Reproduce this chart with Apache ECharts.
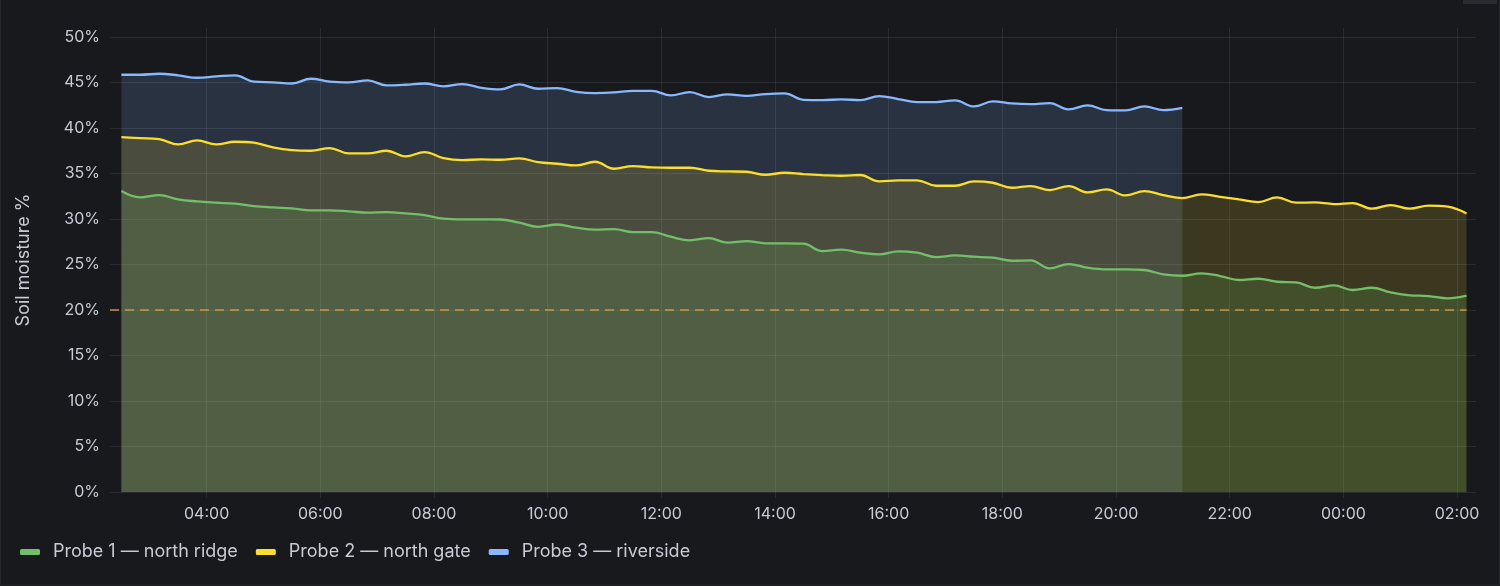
<!DOCTYPE html>
<html>
<head>
<meta charset="utf-8">
<script src="https://cdn.jsdelivr.net/npm/echarts@6/dist/echarts.min.js"></script>
<style>
html,body{margin:0;padding:0;background:#17191d;}
#chart{width:1500px;height:586px;}
</style>
</head>
<body>
<div id="chart"></div>
<script>
// ---- data (20-minute readings starting 02:30) ----
const seriesNames = ['Probe 1 — north ridge', 'Probe 2 — north gate', 'Probe 3 — riverside'];
const seriesColors = ['#73BF69', '#FADE2A', '#8AB8FF'];
const startTime = new Date(2024, 0, 1, 2, 30).getTime();
const stepMinutes = 20;
const axisStart = new Date(2024, 0, 1, 2, 18).getTime();
const axisEnd = new Date(2024, 0, 2, 2, 20).getTime();
const tickHours = 2;
const thresholdValue = 20;

const probe1 = [33.08, 32.38, 32.64, 32.16, 31.94, 31.8, 31.69, 31.43, 31.28, 31.17,
  30.95, 30.95, 30.85, 30.7, 30.77, 30.62, 30.44, 30.04, 29.96, 29.96,
  29.95, 29.6, 29.15, 29.4, 29.05, 28.83, 28.9, 28.57, 28.57, 28.06,
  27.66, 27.91, 27.4, 27.58, 27.33, 27.33, 27.29, 26.48, 26.63, 26.3,
  26.12, 26.45, 26.3, 25.82, 26.0, 25.86, 25.75, 25.42, 25.46, 24.58,
  25.05, 24.65, 24.47, 24.47, 24.4, 23.92, 23.77, 24.03, 23.74, 23.3,
  23.44, 23.11, 23.04, 22.45, 22.71, 22.2, 22.45, 21.94, 21.61, 21.54,
  21.28, 21.58];

const probe2 = [39.0, 38.9, 38.79, 38.2, 38.64, 38.2, 38.5, 38.39, 37.88, 37.58,
  37.51, 37.8, 37.22, 37.22, 37.51, 36.89, 37.36, 36.7, 36.48, 36.56,
  36.52, 36.67, 36.26, 36.08, 35.9, 36.3, 35.53, 35.82, 35.68, 35.64,
  35.64, 35.31, 35.24, 35.2, 34.87, 35.09, 34.95, 34.84, 34.76, 34.84,
  34.14, 34.25, 34.25, 33.66, 33.66, 34.14, 33.99, 33.44, 33.63, 33.19,
  33.63, 32.93, 33.26, 32.6, 33.08, 32.64, 32.31, 32.71, 32.45, 32.16,
  31.87, 32.38, 31.8, 31.83, 31.65, 31.76, 31.14, 31.54, 31.14, 31.47,
  31.36, 30.62];

const probe3 = [45.86, 45.86, 45.97, 45.8, 45.53, 45.68, 45.8, 45.1, 45.02, 44.9,
  45.42, 45.1, 45.02, 45.24, 44.69, 44.76, 44.9, 44.58, 44.84, 44.43,
  44.25, 44.8, 44.32, 44.4, 43.99, 43.85, 43.92, 44.1, 44.1, 43.59,
  43.96, 43.41, 43.7, 43.55, 43.74, 43.81, 43.11, 43.08, 43.15, 43.08,
  43.52, 43.19, 42.86, 42.86, 43.04, 42.38, 42.93, 42.71, 42.64, 42.75,
  42.05, 42.49, 41.98, 41.94, 42.38, 41.98, 42.23];

const yTicks = [0, 5, 10, 15, 20, 25, 30, 35, 40, 45, 50];

// ---- build ----
const times = probe1.map((_, i) => startTime + i * stepMinutes * 60000);
const lastTime = times[times.length - 1];
function pairs(vals) { return times.map((t, i) => [t, i < vals.length ? vals[i] : null]); }
const allVals = [probe1, probe2, probe3];

// x ticks at every even hour inside the axis range
const xTickValues = [];
(function () {
  const d = new Date(axisStart);
  d.setMinutes(0, 0, 0);
  while (d.getTime() <= axisEnd) {
    if (d.getTime() >= axisStart && d.getHours() % tickHours === 0) xTickValues.push(d.getTime());
    d.setHours(d.getHours() + 1);
  }
})();

function pad(n) { return (n < 10 ? '0' : '') + n; }
const FONT = 'Inter, "Noto Sans", sans-serif';
const TEXT = '#c9cad4';
const GRID = 'rgba(230,235,245,0.09)';

// draw order: riverside, north gate, north ridge (so no fill covers a line)
const order = [2, 1, 0];
const series = order.map(k => {
  const s = {
    name: seriesNames[k],
    type: 'line',
    data: pairs(allVals[k]),
    smooth: 0.4,
    showSymbol: false,
    symbol: 'none',
    connectNulls: false,
    lineStyle: { width: 2.3, color: seriesColors[k] },
    itemStyle: { color: seriesColors[k] },
    areaStyle: { color: seriesColors[k], opacity: 0.16, origin: 'start' },
    emphasis: { disabled: true },
    animation: false
  };
  if (k === 0) {
    s.markLine = {
      silent: true,
      symbol: 'none',
      label: { show: false },
      lineStyle: { type: [9, 6], color: '#d1a04e', width: 1.5, opacity: 0.9 },
      data: [[{ coord: [axisStart, thresholdValue] }, { coord: [lastTime, thresholdValue] }]]
    };
  }
  return s;
});

const chart = echarts.init(document.getElementById('chart'), null, { renderer: 'canvas' });
chart.setOption({
  backgroundColor: '#17191d',
  animation: false,
  textStyle: { fontFamily: FONT },
  grid: { left: 110, right: 24, top: 28, bottom: 94, containLabel: false },
  legend: {
    data: seriesNames,
    left: 20,
    top: 543,
    padding: 0,
    icon: 'roundRect',
    itemWidth: 20,
    itemHeight: 6,
    itemGap: 18,
    textStyle: { color: TEXT, fontSize: 18, fontFamily: FONT, padding: [0, 0, 0, 8] },
    selectedMode: false
  },
  xAxis: {
    type: 'value',
    min: axisStart,
    max: axisEnd,
    axisLine: { show: false },
    axisTick: { show: true, length: 6, customValues: xTickValues, lineStyle: { color: GRID } },
    splitLine: { show: true, lineStyle: { color: GRID, width: 1 } },
    axisLabel: {
      color: TEXT, fontSize: 16, fontFamily: FONT, margin: 14,
      customValues: xTickValues,
      formatter: v => { const d = new Date(v); return pad(d.getHours()) + ':' + pad(d.getMinutes()); },
      hideOverlap: false
    }
  },
  yAxis: {
    type: 'value',
    min: yTicks[0],
    max: 51,
    interval: 5,
    name: 'Soil moisture %',
    nameLocation: 'middle',
    nameGap: 77,
    nameTextStyle: { color: TEXT, fontSize: 18, fontFamily: FONT },
    axisLine: { show: false },
    axisTick: { show: false },
    splitLine: { show: true, showMaxLine: false, lineStyle: { color: GRID, width: 1 } },
    axisLabel: {
      color: TEXT, fontSize: 16, fontFamily: FONT, margin: 10,
      showMaxLabel: false,
      formatter: v => (yTicks.indexOf(v) >= 0 ? v + '%' : '')
    }
  },
  graphic: [
    { type: 'rect', shape: { x: 0.5, y: -2, width: 1499, height: 587 }, style: { fill: 'none', stroke: '#25272c', lineWidth: 1 }, silent: true, z: 100 },
    { type: 'rect', shape: { x: 1463, y: 0, width: 34, height: 4 }, style: { fill: '#2a2c31' }, silent: true, z: 100 }
  ],
  series: series
});
</script>
</body>
</html>
